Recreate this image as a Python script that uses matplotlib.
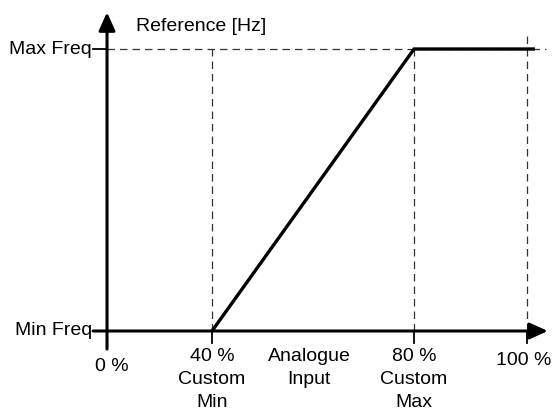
import matplotlib
matplotlib.use("Agg")
import matplotlib.pyplot as plt

plt.rcParams['font.family'] = ['Liberation Sans', 'DejaVu Sans']

# schematic positions (fraction of axis span) and labels
x_positions = [0.0, 0.25, 0.731, 1.0]
x_labels = ["0 %", "40 %\nCustom\nMin", "80 %\nCustom\nMax", "100 %"]
y_positions = [0.0, 1.0]
y_labels = ["Min Freq", "Max Freq"]
curve_x = [0.25, 0.731, 1.015]
curve_y = [0.0, 1.0, 1.0]
x_title = "Analogue\nInput"
y_title = "Reference [Hz]"

fig = plt.figure(figsize=(5.52, 4.15), dpi=100)
ax = fig.add_axes([0, 0, 1, 1])
ax.set_xlim(-0.2548, 1.0595)
ax.set_ylim(-0.2979, 1.1738)
ax.axis('off')

dash = (0, (6, 4))
# dashed guides
ax.plot([0, 1.045], [1, 1], ls=dash, color='#333333', lw=0.9)
for xp in x_positions[1:]:
    ax.plot([xp, xp], [0, 1.045 if xp == 1.0 else 1.0], ls=dash, color='#333333', lw=0.9)

arrow = dict(arrowstyle='-|>,head_length=11,head_width=5', mutation_scale=1,
             lw=2.2, color='black', shrinkA=0, shrinkB=0)
# axes with arrows
ax.annotate('', xy=(1.0595 - 0.01, 0), xytext=(-0.033, 0), arrowprops=arrow)
ax.annotate('', xy=(0, 1.13), xytext=(0, -0.064), arrowprops=arrow)

# ticks
for xp in x_positions[1:]:
    ax.plot([xp, xp], [0.0, -0.043], color='black', lw=1.3)
for yp in y_positions:
    ax.plot([-0.033, 0.0], [yp, yp], color='black', lw=1.3)

# curve
ax.plot(curve_x, curve_y, color='black', lw=2.4, solid_joinstyle='miter')

fs = 14
for yp, lab in zip(y_positions, y_labels):
    ax.text(-0.036, yp, lab, ha='right', va='center', fontsize=fs)
for xp, lab in zip(x_positions, x_labels):
    if xp == 0.0:
        ax.text(0.012, -0.125, lab, ha='center', va='center', fontsize=fs)
    elif xp == 1.0:
        ax.text(1.057, -0.105, lab, ha='right', va='center', fontsize=fs)
    else:
        ax.text(xp, -0.06, lab, ha='center', va='top', fontsize=fs, linespacing=1.45)
ax.text(0.481, -0.06, x_title, ha='center', va='top', fontsize=fs, linespacing=1.45)
ax.text(0.069, 1.08, y_title, ha='left', va='center', fontsize=fs)

fig.savefig('out.png', dpi=100)
